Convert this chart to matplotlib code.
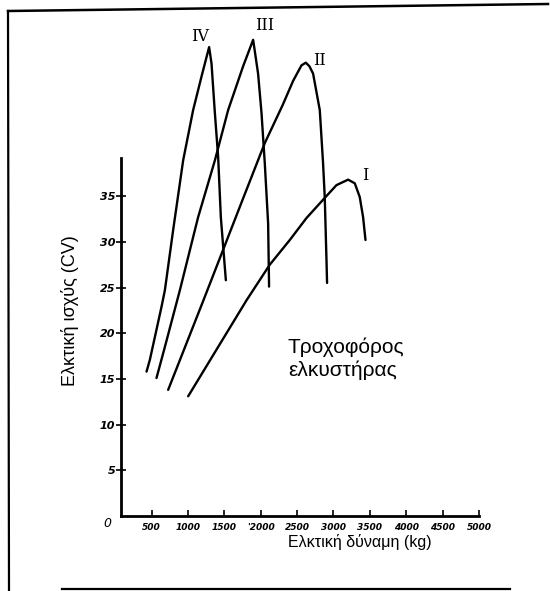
import matplotlib
matplotlib.use("Agg")
import matplotlib.pyplot as plt
from matplotlib.lines import Line2D

# Data: tractive force (kg) vs drawbar power (CV)
iv_x = [431, 477, 637, 683, 797, 934, 1071, 1187, 1291, 1324, 1370, 1415, 1452, 1484, 1521]
iv_y = [15.8, 17.1, 22.9, 24.7, 31.3, 38.9, 44.4, 48.1, 51.3, 49.5, 44.1, 39.3, 32.7, 29.5, 25.8]

iii_x = [568, 683, 889, 1140, 1370, 1552, 1758, 1896, 1964, 2011, 2056, 2102, 2115]
iii_y = [15.1, 18.5, 24.7, 32.7, 38.9, 44.4, 49.2, 52.1, 48.4, 44.1, 38.6, 32.0, 25.1]

ii_x = [728, 1213, 1751, 2056, 2304, 2445, 2560, 2620, 2670, 2720, 2812, 2857, 2880, 2904, 2912]
ii_y = [13.8, 23.6, 34.6, 40.8, 45.0, 47.6, 49.3, 49.6, 49.2, 48.4, 44.4, 38.6, 34.9, 28.0, 25.5]

i_x = [1003, 1400, 1805, 2125, 2400, 2629, 2857, 3041, 3201, 3293, 3361, 3407, 3440]
i_y = [13.1, 18.3, 23.6, 27.5, 30.2, 32.6, 34.6, 36.2, 36.8, 36.4, 34.9, 32.7, 30.2]

curve_labels = ["IV", "III", "II", "I"]
label_pos = [(1163, 52.5), (2056, 53.7), (2812, 49.8), (3444, 37.3)]

x_ticks = [500, 1000, 1500, 2000, 2500, 3000, 3500, 4000, 4500, 5000]
x_ticklabels = ["500", "1000", "1500", "'2000", "2500", "3000", "3500", "4000", "4500", "5000"]
y_ticks = [5, 10, 15, 20, 25, 30, 35]

W, H = 550, 591
fig = plt.figure(figsize=(W / 100, H / 100), dpi=100)
ax = fig.add_axes([121 / W, (H - 516) / H, 358 / W, 502.7 / H])
ax.set_xlim(80, 5000)
ax.set_ylim(0, 55)

for xs, ys in [(iv_x, iv_y), (iii_x, iii_y), (ii_x, ii_y), (i_x, i_y)]:
    ax.plot(xs, ys, color="black", lw=1.7, solid_joinstyle="round", solid_capstyle="round", clip_on=False)

for lab, (lx, ly) in zip(curve_labels, label_pos):
    ax.text(lx, ly, lab, family="DejaVu Serif", fontsize=11.5, ha="center", va="center", color="black")

ax.text(2372, 17.2, "Τροχοφόρος\nελκυστήρας", family="Liberation Sans", fontsize=15,
        ha="left", va="center", linespacing=1.2)

for side in ["top", "right"]:
    ax.spines[side].set_visible(False)
ax.spines["left"].set_linewidth(2.0)
ax.spines["bottom"].set_linewidth(2.0)
ax.spines["left"].set_bounds(0, 39.2)
ax.spines["bottom"].set_bounds(80, 5000)

ax.set_xticks(x_ticks)
ax.set_xticklabels(x_ticklabels)
ax.set_yticks(y_ticks)
ax.set_yticklabels([str(v) for v in y_ticks])
ax.tick_params(axis="x", direction="in", length=4, width=1.2, pad=5)
ax.tick_params(axis="y", direction="inout", length=7, width=1.2, pad=0.5)
for t in ax.get_xticklabels():
    t.set_fontsize(6.5)
    t.set_fontstyle("italic")
    t.set_fontweight("bold")
for t in ax.get_yticklabels():
    t.set_fontsize(8)
    t.set_fontstyle("italic")
    t.set_fontweight("bold")

ax.text(-0.039, -0.014, "0", transform=ax.transAxes, fontsize=9, fontstyle="italic",
        ha="center", va="center", clip_on=False)

ax.text((70 - 121) / 358, (516 - 311) / 502.7, "Ελκτική ισχύς (CV)", transform=ax.transAxes,
        family="Liberation Sans", fontsize=13, rotation=90, ha="center", va="center")
ax.text((360 - 121) / 358, (516 - 542) / 502.7, "Ελκτική δύναμη (kg)", transform=ax.transAxes,
        family="Liberation Sans", fontsize=11.5, ha="center", va="center")

# scanned page border
def px(x, y):
    return x / W, (H - y) / H

for (x0, y0), (x1, y1), lw in [((8, 11), (548, 4), 1.8), ((8, 11), (9, 591), 1.6), ((62, 589), (510, 589), 1.6)]:
    a, b = px(x0, y0)
    c, d = px(x1, y1)
    fig.add_artist(Line2D([a, c], [b, d], color="black", lw=lw))

fig.savefig("out.png", dpi=100)
